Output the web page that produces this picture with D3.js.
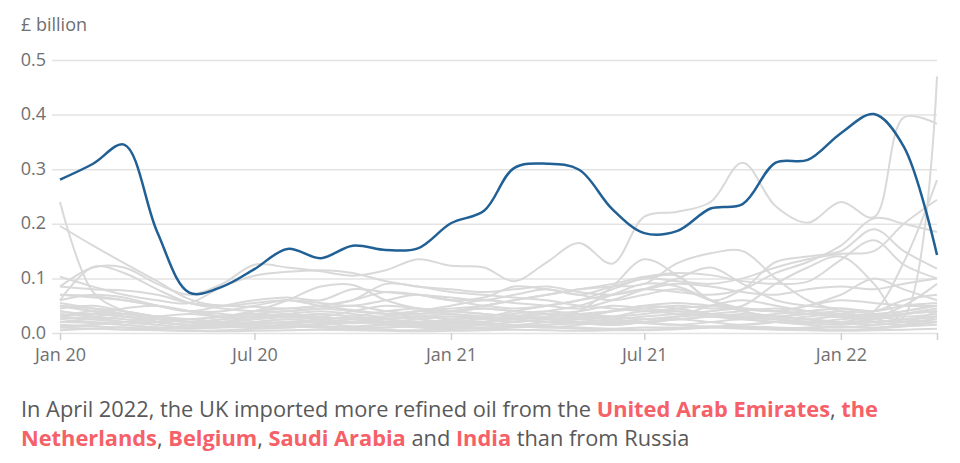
<!DOCTYPE html>
<html>
<head>
<meta charset="utf-8">
<script src="https://cdn.jsdelivr.net/npm/d3@7"></script>
<style>
  body { margin: 0; background: #fff; font-family: "Open Sans", sans-serif; }
  .tick text { font-family: "Open Sans", sans-serif; }
</style>
</head>
<body>
<div id="chart"></div>
<script>
        // Months (Jan 2020 - Apr 2022)
        const months = ["2020-01","2020-02","2020-03","2020-04","2020-05","2020-06","2020-07","2020-08","2020-09","2020-10","2020-11","2020-12",
                        "2021-01","2021-02","2021-03","2021-04","2021-05","2021-06","2021-07","2021-08","2021-09","2021-10","2021-11","2021-12",
                        "2022-01","2022-02","2022-03","2022-04"];

        // Russia, £ billion
        const russia = [0.281,0.31,0.345,0.185,0.074,0.085,0.117,0.154,0.137,0.16,0.152,0.155,
                        0.201,0.224,0.302,0.31,0.299,0.227,0.183,0.187,0.228,0.236,0.312,0.317,
                        0.366,0.401,0.341,0.143];

        // Other countries, £ billion
        const others = [
            [0.085,0.12,0.12,0.09,0.07,0.09,0.125,0.12,0.113,0.105,0.115,0.135,0.123,0.12,0.095,0.13,0.165,0.127,0.213,0.222,0.24,0.312,0.232,0.202,0.24,0.212,0.395,0.383],
            [0.04,0.03,0.02,0.015,0.01,0.012,0.015,0.02,0.018,0.012,0.01,0.015,0.02,0.018,0.015,0.02,0.025,0.03,0.04,0.035,0.03,0.025,0.02,0.015,0.01,0.015,0.03,0.47],
            [0.03,0.035,0.03,0.02,0.015,0.02,0.025,0.03,0.035,0.03,0.025,0.02,0.015,0.02,0.03,0.04,0.05,0.07,0.09,0.085,0.06,0.04,0.03,0.025,0.02,0.04,0.13,0.28],
            [0.05,0.04,0.035,0.03,0.02,0.025,0.03,0.03,0.025,0.02,0.03,0.04,0.035,0.03,0.04,0.05,0.06,0.08,0.1,0.095,0.09,0.1,0.12,0.135,0.145,0.15,0.2,0.244],
            [0.06,0.07,0.065,0.05,0.04,0.04,0.05,0.06,0.055,0.05,0.06,0.07,0.06,0.05,0.045,0.05,0.06,0.07,0.08,0.075,0.07,0.08,0.11,0.13,0.16,0.21,0.2,0.185],
            [0.07,0.065,0.06,0.05,0.04,0.05,0.06,0.065,0.06,0.08,0.075,0.07,0.065,0.06,0.07,0.08,0.07,0.085,0.1,0.105,0.06,0.08,0.13,0.14,0.15,0.19,0.15,0.118],
            [0.24,0.075,0.04,0.02,0.015,0.012,0.01,0.012,0.01,0.008,0.01,0.012,0.01,0.008,0.01,0.012,0.01,0.008,0.01,0.01,0.012,0.01,0.008,0.01,0.012,0.01,0.015,0.02],
            [0.196,0.16,0.128,0.095,0.062,0.05,0.055,0.06,0.05,0.042,0.035,0.03,0.03,0.025,0.02,0.025,0.02,0.015,0.02,0.025,0.02,0.015,0.02,0.025,0.02,0.02,0.025,0.03],
            [0.06,0.121,0.11,0.08,0.055,0.045,0.04,0.04,0.045,0.05,0.04,0.035,0.04,0.045,0.04,0.035,0.03,0.03,0.035,0.04,0.035,0.03,0.03,0.035,0.03,0.03,0.035,0.04],
            [0.103,0.085,0.07,0.06,0.055,0.085,0.105,0.112,0.115,0.11,0.095,0.085,0.08,0.075,0.08,0.085,0.075,0.07,0.08,0.09,0.085,0.075,0.07,0.08,0.085,0.08,0.09,0.1],
            [0.085,0.08,0.078,0.07,0.055,0.05,0.048,0.045,0.05,0.06,0.09,0.085,0.075,0.07,0.065,0.06,0.05,0.045,0.04,0.045,0.05,0.045,0.04,0.05,0.06,0.055,0.05,0.05],
            [0.07,0.068,0.06,0.05,0.04,0.035,0.03,0.035,0.04,0.035,0.03,0.04,0.05,0.06,0.055,0.05,0.045,0.06,0.08,0.1,0.12,0.09,0.06,0.05,0.045,0.04,0.06,0.07],
            [0.02,0.025,0.02,0.015,0.01,0.015,0.02,0.025,0.02,0.02,0.025,0.03,0.025,0.02,0.025,0.03,0.04,0.085,0.135,0.105,0.06,0.04,0.03,0.035,0.04,0.035,0.03,0.035],
            [0.03,0.025,0.03,0.02,0.015,0.02,0.03,0.035,0.03,0.04,0.05,0.045,0.04,0.05,0.06,0.07,0.08,0.085,0.09,0.128,0.146,0.15,0.1,0.06,0.04,0.03,0.05,0.09],
            [0.05,0.045,0.04,0.03,0.025,0.03,0.035,0.04,0.045,0.04,0.035,0.04,0.045,0.05,0.06,0.07,0.08,0.09,0.103,0.11,0.106,0.095,0.09,0.094,0.134,0.17,0.125,0.1],
            [0.02,0.02,0.015,0.01,0.01,0.012,0.015,0.02,0.02,0.025,0.03,0.025,0.02,0.02,0.025,0.03,0.035,0.04,0.045,0.05,0.045,0.05,0.09,0.12,0.14,0.09,0.02,0.03],
            [0.01,0.015,0.02,0.03,0.035,0.03,0.04,0.06,0.085,0.088,0.06,0.045,0.04,0.035,0.03,0.035,0.04,0.05,0.045,0.04,0.035,0.03,0.035,0.04,0.045,0.04,0.05,0.055],
            [0.03,0.04,0.035,0.03,0.025,0.03,0.04,0.045,0.05,0.06,0.075,0.07,0.06,0.065,0.085,0.08,0.07,0.06,0.07,0.08,0.06,0.045,0.04,0.05,0.07,0.1,0.08,0.06],
            [0.02,0.018,0.015,0.01,0.008,0.01,0.012,0.015,0.012,0.01,0.015,0.02,0.018,0.015,0.012,0.01,0.015,0.02,0.018,0.015,0.02,0.025,0.02,0.018,0.015,0.02,0.025,0.03],
            [0.005,0.008,0.01,0.006,0.004,0.005,0.008,0.01,0.012,0.008,0.006,0.005,0.007,0.009,0.012,0.01,0.008,0.006,0.005,0.007,0.01,0.012,0.01,0.008,0.006,0.008,0.012,0.015],
            [0.035,0.03,0.025,0.02,0.015,0.02,0.025,0.03,0.028,0.025,0.02,0.018,0.022,0.025,0.03,0.028,0.025,0.022,0.02,0.025,0.03,0.035,0.03,0.025,0.02,0.025,0.04,0.05],
            [0.045,0.05,0.04,0.03,0.02,0.018,0.02,0.025,0.02,0.018,0.02,0.025,0.03,0.028,0.025,0.02,0.018,0.015,0.02,0.025,0.03,0.028,0.025,0.02,0.018,0.015,0.02,0.025],
            [0.015,0.012,0.01,0.008,0.01,0.015,0.02,0.018,0.015,0.02,0.025,0.03,0.035,0.03,0.025,0.02,0.03,0.04,0.05,0.045,0.035,0.03,0.025,0.03,0.035,0.03,0.025,0.02],
            [0.055,0.045,0.035,0.025,0.02,0.015,0.012,0.01,0.015,0.02,0.018,0.015,0.012,0.01,0.012,0.015,0.02,0.025,0.03,0.035,0.04,0.045,0.04,0.035,0.03,0.025,0.035,0.045],
            [0.025,0.03,0.035,0.03,0.025,0.02,0.015,0.012,0.01,0.012,0.015,0.01,0.008,0.01,0.012,0.015,0.018,0.02,0.025,0.03,0.035,0.04,0.045,0.04,0.03,0.02,0.015,0.02],
            [0.01,0.008,0.006,0.005,0.004,0.003,0.004,0.005,0.006,0.005,0.004,0.003,0.004,0.005,0.006,0.005,0.004,0.005,0.006,0.008,0.01,0.008,0.006,0.005,0.004,0.005,0.006,0.008],
            [0.04,0.035,0.045,0.05,0.04,0.03,0.028,0.03,0.035,0.03,0.025,0.02,0.025,0.03,0.035,0.04,0.035,0.03,0.025,0.03,0.035,0.03,0.025,0.02,0.025,0.03,0.035,0.04],
            [0.03,0.025,0.02,0.02,0.025,0.03,0.035,0.03,0.025,0.03,0.04,0.045,0.04,0.035,0.03,0.025,0.02,0.018,0.02,0.03,0.05,0.06,0.05,0.04,0.035,0.03,0.025,0.03],
            [0.012,0.015,0.02,0.025,0.02,0.015,0.018,0.02,0.022,0.02,0.018,0.015,0.012,0.015,0.02,0.025,0.03,0.025,0.02,0.015,0.012,0.015,0.02,0.025,0.03,0.025,0.02,0.04],
            [0.05,0.04,0.03,0.025,0.02,0.025,0.03,0.035,0.03,0.025,0.03,0.035,0.04,0.045,0.04,0.035,0.03,0.04,0.05,0.055,0.05,0.045,0.04,0.035,0.03,0.035,0.04,0.05]
        ];

        // Axis ticks
        const yTicks = [0, 0.1, 0.2, 0.3, 0.4, 0.5];
        const xTicks = ["2020-01", "2020-07", "2021-01", "2021-07", "2022-01"];
        const xTickLabels = ["Jan 20", "Jul 20", "Jan 21", "Jul 21", "Jan 22"];

        const parseMonth = d3.timeParse("%Y-%m");
        const dates = months.map(parseMonth);

        // Розміри
        const W = 960, H = 463;
        const plot = {left: 60, right: 937, top: 60, bottom: 333, gridStart: 52};

        const svg = d3.select("#chart")
            .append("svg")
            .attr("width", W)
            .attr("height", H)
            .style("font-family", "'Open Sans', sans-serif");

        // Шкали
        const x = d3.scaleTime()
            .domain(d3.extent(dates))
            .range([plot.left, plot.right]);

        const y = d3.scaleLinear()
            .domain([0, 0.5])
            .range([plot.bottom, plot.top]);

        // Gridlines + y labels
        const yAxis = svg.append("g")
            .attr("transform", `translate(${plot.right},0)`)
            .call(d3.axisLeft(y)
                .tickValues(yTicks)
                .tickSize(plot.right - plot.gridStart)
                .tickPadding(6)
                .tickFormat(d3.format(".1f")));
        yAxis.select(".domain").remove();
        yAxis.selectAll(".tick line")
            .attr("stroke", "#e3e3e3")
            .attr("stroke-width", 1.5);
        yAxis.selectAll(".tick text")
            .attr("fill", "#707071")
            .attr("dy", "0.28em")
            .style("font-size", "18px");

        svg.append("text")
            .attr("x", 21)
            .attr("y", 31)
            .attr("fill", "#707071")
            .style("font-size", "18px")
            .text("£ billion");

        // X axis
        const xAxis = svg.append("g")
            .attr("transform", `translate(0,${plot.bottom})`)
            .call(d3.axisBottom(x)
                .tickValues(xTicks.map(parseMonth).concat([dates[dates.length - 1]]))
                .tickSize(7)
                .tickPadding(8)
                .tickFormat((d, i) => xTickLabels[i] || ""));
        xAxis.select(".domain").remove();
        xAxis.selectAll(".tick line")
            .attr("stroke", "#cfcfcf")
            .attr("stroke-width", 1.5);
        xAxis.selectAll(".tick text")
            .attr("fill", "#707071")
            .style("font-size", "18px");

        // Лінії
        const line = d3.line()
            .x((d, i) => x(dates[i]))
            .y(d => y(d))
            .curve(d3.curveCatmullRom.alpha(0.5));

        svg.append("g")
            .selectAll("path")
            .data(others)
            .enter()
            .append("path")
            .attr("d", line)
            .attr("fill", "none")
            .attr("stroke", "#d9d9d9")
            .attr("stroke-width", 2);

        svg.append("path")
            .datum(russia)
            .attr("d", line)
            .attr("fill", "none")
            .attr("stroke", "#206095")
            .attr("stroke-width", 2.5);

        // Caption
        const captionLines = [
            [["In April 2022, the UK imported more refined oil from the ", false], ["United Arab Emirates", true], [", ", false], ["the", true]],
            [["Netherlands", true], [", ", false], ["Belgium", true], [", ", false], ["Saudi Arabia", true], [" and ", false], ["India", true], [" than from Russia", false]]
        ];

        const caption = svg.append("text")
            .attr("x", 21)
            .attr("y", 417)
            .style("font-size", "21.8px")
            .style("white-space", "pre");

        captionLines.forEach((parts, li) => {
            parts.forEach(([t, bold], pi) => {
                const ts = caption.append("tspan")
                    .text(t)
                    .attr("fill", bold ? "#f66068" : "#595959")
                    .style("font-weight", bold ? "700" : "400");
                if (pi === 0) ts.attr("x", 21).attr("y", 417 + li * 29);
            });
        });
</script>
</body>
</html>
